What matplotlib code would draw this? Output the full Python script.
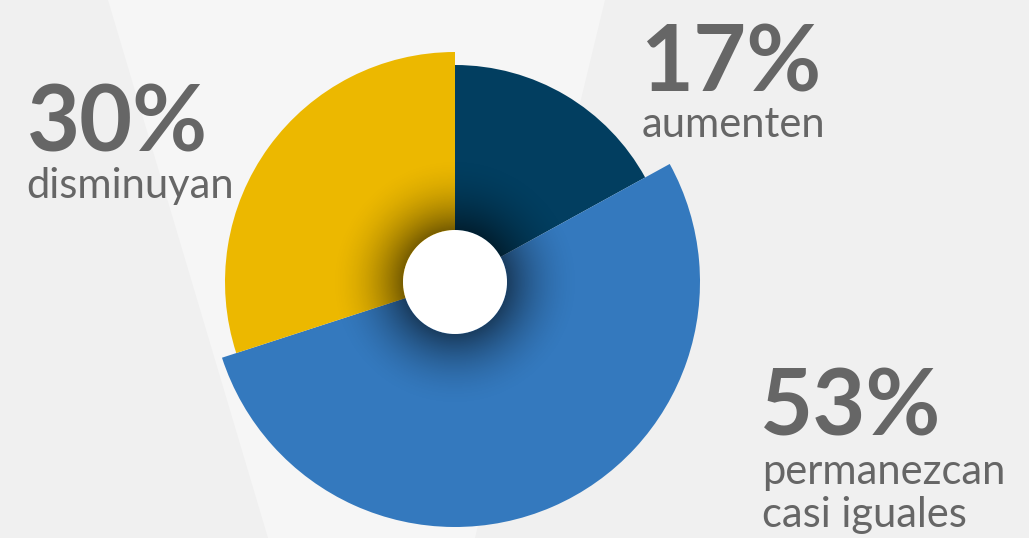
import numpy as np
from matplotlib import pyplot as plt
from matplotlib.patches import Wedge, Circle, Polygon


# slice data (clockwise from 12 o'clock)
labels = ['aumenten', 'permanezcan\ncasi iguales', 'disminuyan']
shares = [17, 53, 30]
colors = ['#023e60', '#3479be', '#ecb800']
radii = [217, 245, 230]

W, H = 1029, 538
center = (455, H - 282)
hole_r = 52
text_grey = '#666666'

fig = plt.figure(figsize=(W / 100, H / 100), dpi=100)
fig.patch.set_facecolor('#f0f0f0')
ax = fig.add_axes([0, 0, 1, 1])
ax.set_xlim(0, W)
ax.set_ylim(0, H)
ax.set_aspect('equal')
ax.axis('off')

# lighter band in the background behind the pie
ax.add_patch(Polygon([(108, H), (605, H), (475, 0), (268, 0)],
                     closed=True, facecolor='#f6f6f6', edgecolor='none', zorder=0))

# wedges with different radii
start = 90.0
for share, col, r in zip(shares, colors, radii):
    sweep = share / sum(shares) * 360.0
    ax.add_patch(Wedge(center, r, start - sweep, start,
                       facecolor=col, edgecolor='none', zorder=2))
    start -= sweep

# soft shadow around the hole
ext = 140
gx = np.linspace(-ext, ext, 400)
gxx, gyy = np.meshgrid(gx, gx)
rr = np.hypot(gxx, gyy)
t = np.clip((rr - hole_r) / 75.0, 0, 1)
alpha = 0.5 * (1 - t) ** 2
alpha[rr < hole_r] = 0
shade = np.zeros((400, 400, 4))
shade[..., 3] = alpha
ax.imshow(shade, extent=(center[0] - ext, center[0] + ext,
                         center[1] - ext, center[1] + ext),
          origin='lower', zorder=3, interpolation='bilinear')
ax.set_xlim(0, W)
ax.set_ylim(0, H)

ax.add_patch(Circle(center, hole_r, facecolor='white', edgecolor='none', zorder=4))

# labels
big = dict(fontsize=66, fontweight='bold', color=text_grey, family='Lato',
           ha='left', va='baseline')
small = dict(fontsize=30, color=text_grey, family='Lato',
             ha='left', va='baseline', linespacing=1.15)

ax.text(640, H - 92, f'{shares[0]}%', **big)
ax.text(642, H - 137, labels[0], **small)

ax.text(27, H - 152, f'{shares[2]}%', **big)
ax.text(26, H - 198, labels[2], **small)

ax.text(760, H - 435, f'{shares[1]}%', **big)
ax.text(762, H - 527, labels[1], **small)

fig.savefig('out.png', dpi=100, facecolor=fig.get_facecolor())
